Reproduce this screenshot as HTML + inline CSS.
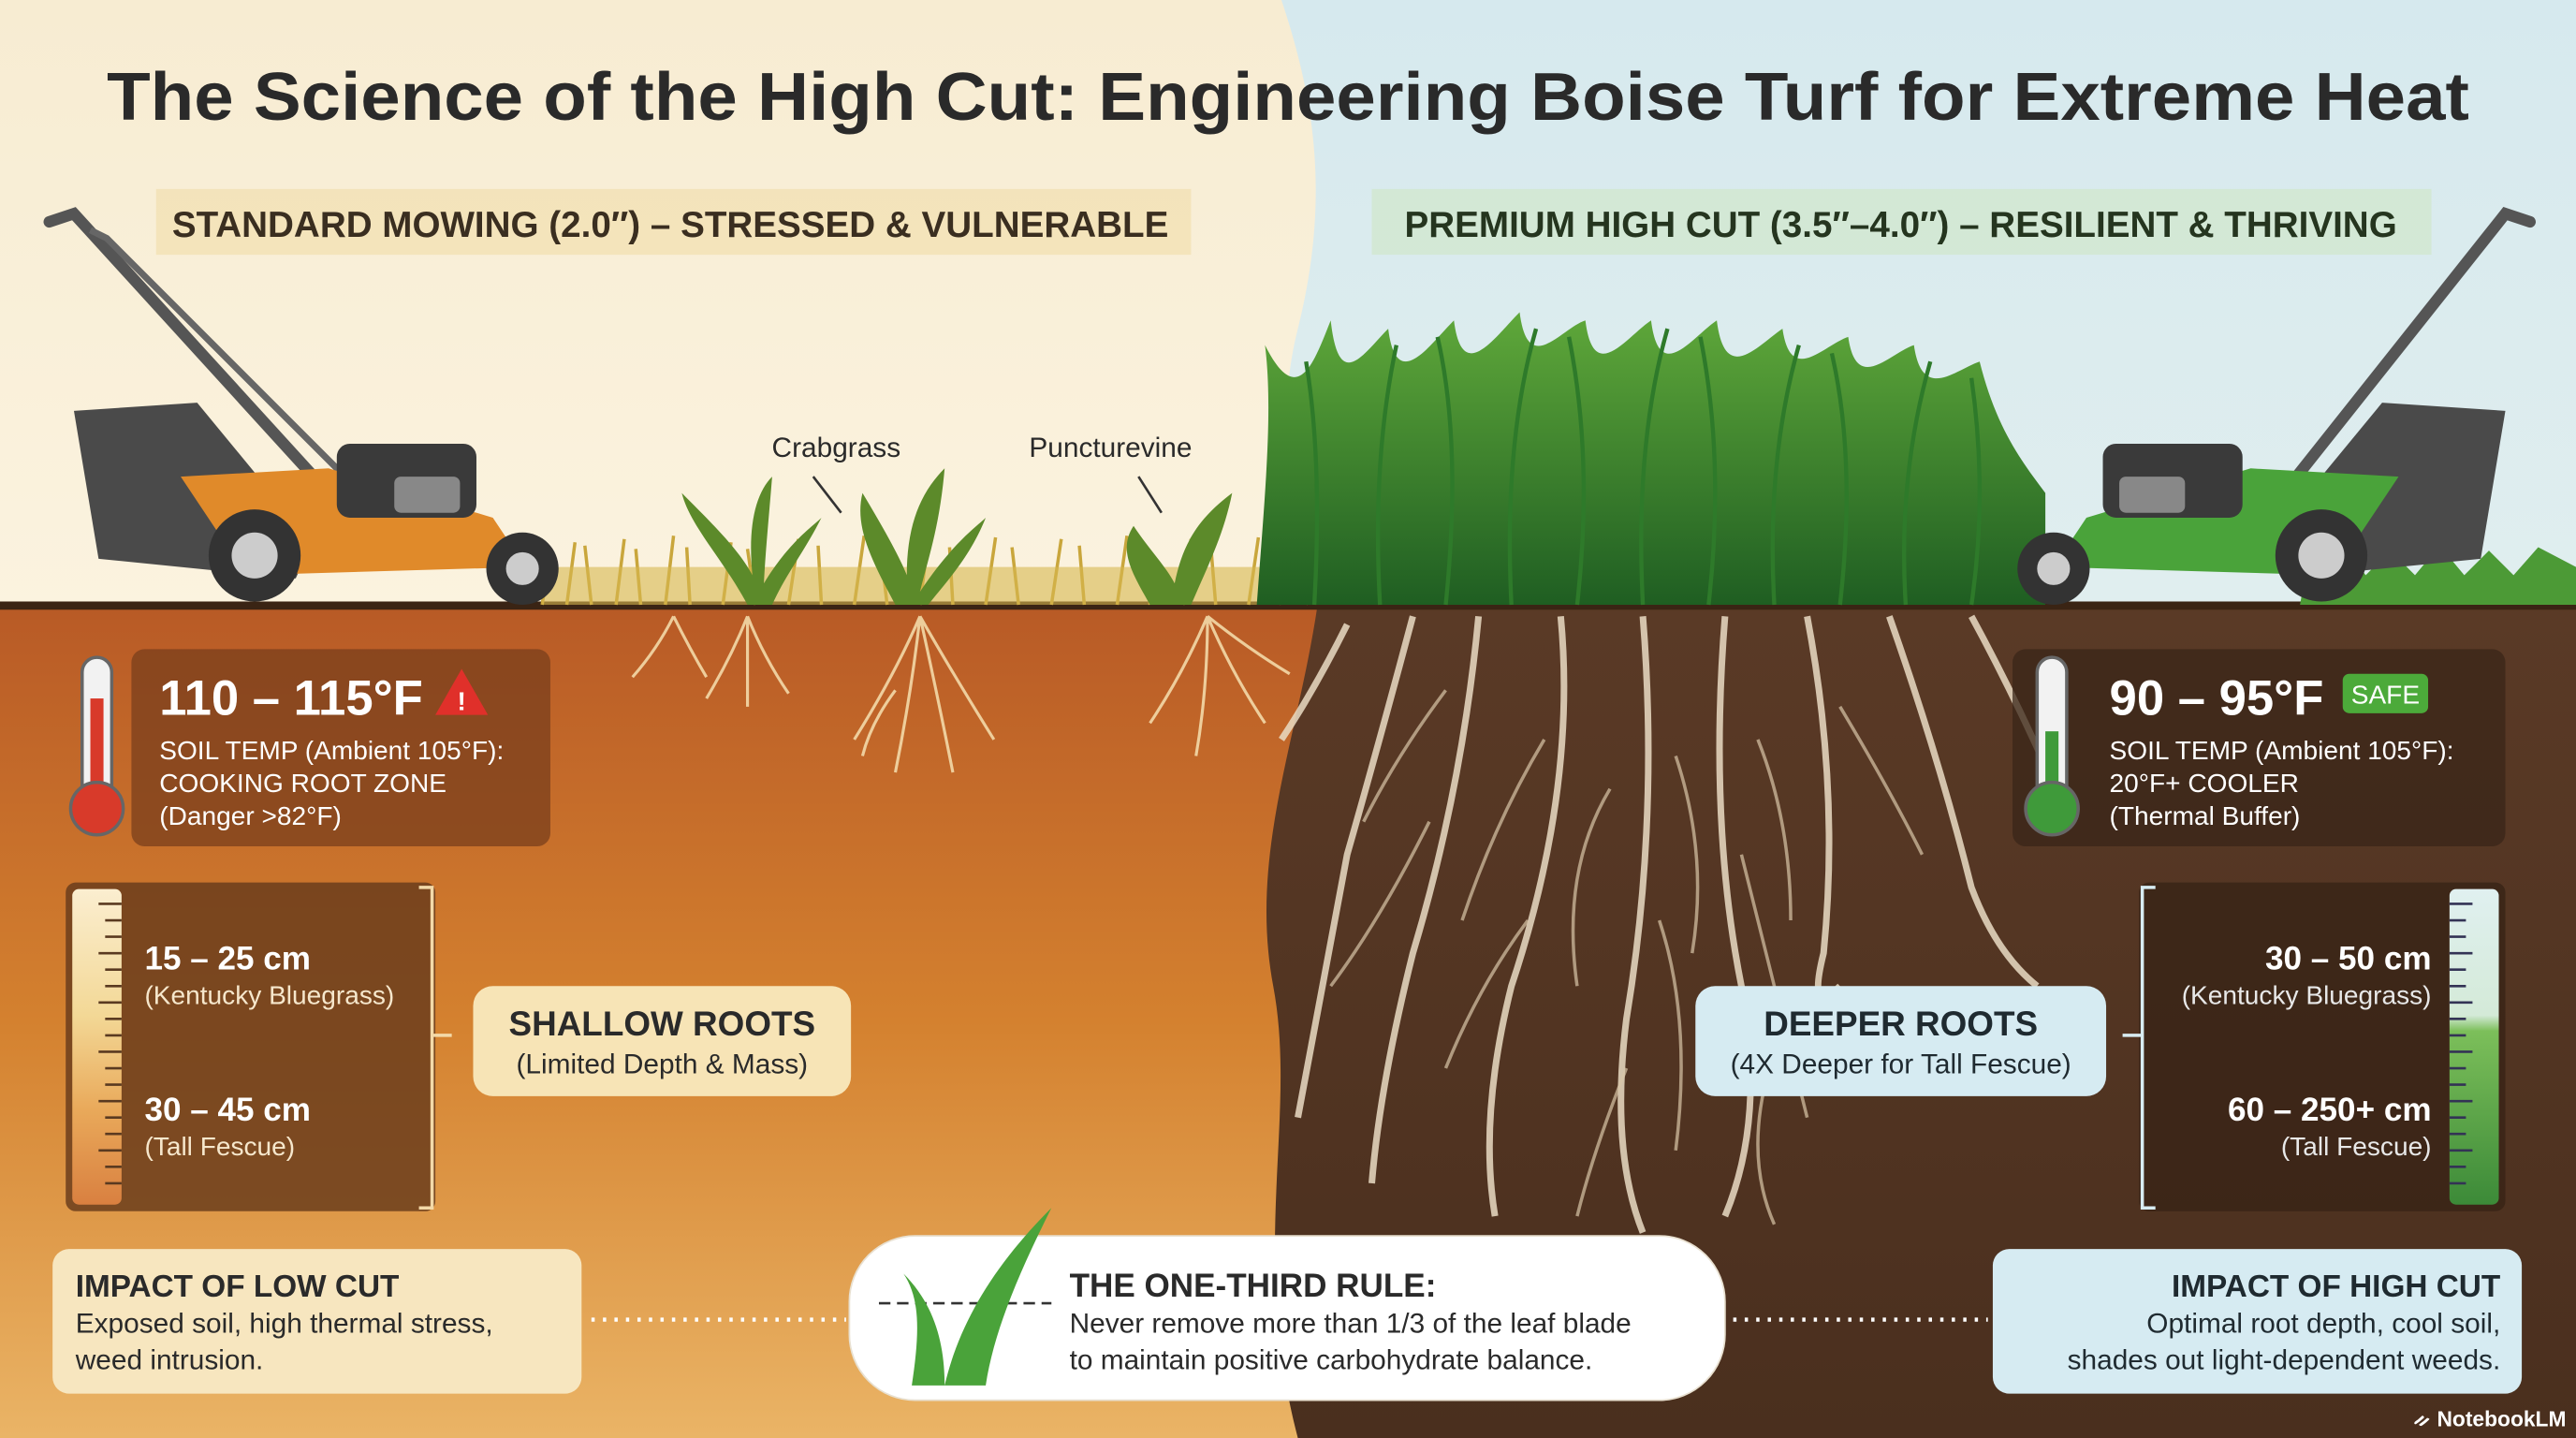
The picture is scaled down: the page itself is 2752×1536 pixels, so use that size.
<!DOCTYPE html>
<html><head><meta charset="utf-8"><style>
html,body{margin:0;padding:0;width:2752px;height:1536px;overflow:hidden}
svg{display:block}
text{font-family:"Liberation Sans",sans-serif}
</style></head><body>
<svg width="2752" height="1536" viewBox="0 0 1568 875" preserveAspectRatio="none" xmlns="http://www.w3.org/2000/svg">
<defs>
<linearGradient id="skyL" x1="0" y1="0" x2="0" y2="1"><stop offset="0" stop-color="#f7ecd2"/><stop offset="1" stop-color="#fbf3df"/></linearGradient>
<linearGradient id="skyR" x1="0" y1="0" x2="0" y2="1"><stop offset="0" stop-color="#d6e9ee"/><stop offset="1" stop-color="#eef5f0"/></linearGradient>
<linearGradient id="soilL" x1="0" y1="0" x2="0" y2="1"><stop offset="0" stop-color="#b85a26"/><stop offset="0.5" stop-color="#d4812f"/><stop offset="1" stop-color="#eab466"/></linearGradient>
<linearGradient id="soilR" x1="0" y1="0" x2="0" y2="1"><stop offset="0" stop-color="#5a3a26"/><stop offset="1" stop-color="#4a2f1e"/></linearGradient>
<linearGradient id="grassR" x1="0" y1="0" x2="0" y2="1"><stop offset="0" stop-color="#5fa83a"/><stop offset="1" stop-color="#1f5e22"/></linearGradient>
<linearGradient id="rulerL" x1="0" y1="0" x2="0" y2="1"><stop offset="0" stop-color="#fbeed0"/><stop offset="0.4" stop-color="#f3d896"/><stop offset="0.7" stop-color="#e9a95a"/><stop offset="1" stop-color="#d98040"/></linearGradient>
<linearGradient id="rulerR" x1="0" y1="0" x2="0" y2="1"><stop offset="0" stop-color="#e0f0f0"/><stop offset="0.4" stop-color="#d4ead8"/><stop offset="0.45" stop-color="#7cbf5a"/><stop offset="1" stop-color="#3c8a38"/></linearGradient>
</defs>
<rect x="0" y="0" width="1568" height="875" fill="url(#skyR)"/>
<path d="M0 0 H780 C800 60 810 120 790 200 C770 280 800 330 800 370 H0Z" fill="url(#skyL)"/>
<rect x="0" y="368" width="1568" height="507" fill="url(#soilR)"/>
<path d="M0 368 H802 C790 450 760 520 775 600 C790 680 760 760 790 875 H0Z" fill="url(#soilL)"/>
<rect x="0" y="366" width="1568" height="5" fill="#3a2414"/>
<text x="784" y="73" font-size="41" font-weight="bold" text-anchor="middle" fill="#2a2a2a" textLength="1438" lengthAdjust="spacingAndGlyphs">The Science of the High Cut: Engineering Boise Turf for Extreme Heat</text>
<rect x="95" y="115" width="630" height="40" fill="#f0dca8" opacity="0.6"/>
<text x="408" y="144" font-size="22" font-weight="bold" text-anchor="middle" fill="#3a2e20">STANDARD MOWING (2.0″) – STRESSED &amp; VULNERABLE</text>
<rect x="835" y="115" width="645" height="40" fill="#cfe6c4" opacity="0.6"/>
<text x="1157" y="144" font-size="22" font-weight="bold" text-anchor="middle" fill="#25351f">PREMIUM HIGH CUT (3.5″–4.0″) – RESILIENT &amp; THRIVING</text>
<g stroke="#c9a63c" stroke-width="2">
<path d="M330 368 L335 335 M345 368 L350 330 M360 368 L356 332 M375 368 L380 328 M390 368 L387 334 M405 368 L410 326 M420 368 L418 333 M440 368 L445 330 M460 368 L455 334 M480 368 L486 328 M500 368 L498 332 M520 368 L526 326 M540 368 L536 334 M560 368 L565 328 M580 368 L578 333 M600 368 L606 327 M620 368 L616 333 M640 368 L646 328 M660 368 L657 332 M680 368 L686 326 M700 368 L698 333 M720 368 L725 328 M740 368 L737 332 M760 368 L766 327 M780 368 L777 333 M795 368 L798 330"/>
</g>
<rect x="330" y="345" width="470" height="23" fill="#d7b84f" opacity="0.6"/>
<g fill="#5c8a2a">
<path d="M455 368 C440 340 420 320 415 300 C435 320 450 335 458 350 C455 320 460 300 470 290 C468 315 466 335 465 355 C480 330 495 320 500 315 C490 335 478 350 470 368Z"/>
<path d="M545 368 C530 340 520 320 525 300 C540 325 548 340 552 350 C552 320 560 300 575 285 C572 320 565 340 560 360 C580 330 595 320 600 315 C590 340 575 355 565 368Z"/>
<path d="M700 368 C690 350 680 335 690 320 C700 335 710 345 715 355 C720 330 730 315 750 300 C745 325 735 345 725 368Z"/>
</g>
<text x="509" y="278" font-size="17" text-anchor="middle" fill="#2a2a2a">Crabgrass</text>
<text x="676" y="278" font-size="17" text-anchor="middle" fill="#2a2a2a">Puncturevine</text>
<path d="M495 290 L512 312 M693 290 L707 312" stroke="#333" stroke-width="1.5"/>
<path d="M765 368 C770 300 775 250 770 210 C790 250 800 220 810 195 C815 240 830 215 845 200 C850 240 870 210 885 195 C890 235 910 205 925 190 C930 230 950 200 965 195 C970 235 990 205 1005 195 C1010 235 1030 205 1045 195 C1050 235 1070 210 1085 200 C1090 235 1110 210 1125 205 C1130 240 1150 215 1165 210 C1170 245 1190 225 1205 220 C1215 260 1230 280 1245 300 L1245 368Z" fill="url(#grassR)"/>
<g stroke="#2e7a2a" stroke-width="2.5" fill="none">
<path d="M800 368 Q805 280 795 220 M840 368 Q835 280 850 210 M880 368 Q890 270 875 205 M920 368 Q915 270 935 200 M960 368 Q970 280 955 205 M1000 368 Q995 270 1015 200 M1040 368 Q1050 280 1035 205 M1080 368 Q1075 280 1095 210 M1120 368 Q1130 280 1115 215 M1160 368 Q1155 290 1175 220 M1200 368 Q1210 300 1200 230"/>
</g>
<path d="M1400 368 L1405 340 L1415 350 L1425 330 L1440 350 L1455 335 L1470 350 L1485 332 L1500 350 L1515 335 L1530 350 L1545 333 L1568 345 V368Z" fill="#4c9a36"/>
<g>
<path d="M30 135 L45 130 L200 300" stroke="#555" stroke-width="7" fill="none" stroke-linecap="round"/>
<path d="M55 140 L65 145 L220 300" stroke="#666" stroke-width="4" fill="none"/>
<path d="M45 250 L120 245 L190 330 L180 352 L60 340 Z" fill="#4a4a4a"/>
<path d="M110 290 L200 285 L300 315 L320 345 L150 350Z" fill="#e08a2a"/>
<rect x="205" y="270" width="85" height="45" rx="8" fill="#3a3a3a"/>
<rect x="240" y="290" width="40" height="22" rx="4" fill="#888"/>
<circle cx="155" cy="338" r="28" fill="#333"/><circle cx="155" cy="338" r="14" fill="#ccc"/>
<circle cx="318" cy="346" r="22" fill="#333"/><circle cx="318" cy="346" r="10" fill="#ccc"/>
</g>
<g>
<path d="M1540 135 L1525 130 L1390 300" stroke="#555" stroke-width="7" fill="none" stroke-linecap="round"/>
<path d="M1525 250 L1450 245 L1380 330 L1390 352 L1510 340 Z" fill="#4a4a4a"/>
<path d="M1460 290 L1370 285 L1270 315 L1250 345 L1420 350Z" fill="#4aa33a"/>
<rect x="1280" y="270" width="85" height="45" rx="8" fill="#3a3a3a"/>
<rect x="1290" y="290" width="40" height="22" rx="4" fill="#888"/>
<circle cx="1413" cy="338" r="28" fill="#333"/><circle cx="1413" cy="338" r="14" fill="#ccc"/>
<circle cx="1250" cy="346" r="22" fill="#333"/><circle cx="1250" cy="346" r="10" fill="#ccc"/>
</g>
<g stroke="#f3d9a8" stroke-width="1.8" fill="none" opacity="0.9">
<path d="M410 375 Q400 395 385 412 M410 375 Q420 395 430 412 M455 375 Q445 400 430 425 M455 375 Q465 400 480 422 M455 375 Q455 400 455 430"/>
<path d="M560 375 Q545 410 520 450 M560 375 Q555 420 545 470 M560 375 Q570 420 580 470 M560 375 Q580 410 605 450 M545 420 Q530 440 525 460"/>
<path d="M735 375 Q720 410 700 440 M735 375 Q735 420 728 460 M735 375 Q750 410 770 440 M735 375 Q760 395 785 410"/>
</g>
<g stroke="#eadcc4" stroke-width="4" fill="none" opacity="0.85">
<path d="M860 375 Q840 450 820 520 Q805 600 790 680"/>
<path d="M900 375 Q890 480 860 580 Q840 660 835 720"/>
<path d="M950 375 Q960 480 920 600 Q900 680 910 740"/>
<path d="M1000 375 Q1010 500 990 620 Q980 700 1000 750"/>
<path d="M1050 375 Q1040 500 1060 600 Q1075 680 1050 740"/>
<path d="M1100 375 Q1120 480 1110 580 Q1100 620 1120 600"/>
<path d="M1150 375 Q1180 460 1200 540 Q1215 580 1240 600"/>
<path d="M1200 375 Q1230 430 1260 500"/>
<path d="M820 380 Q800 420 780 450"/>
</g>
<g stroke="#d8c6a8" stroke-width="2" fill="none" opacity="0.7">
<path d="M880 420 Q850 460 830 500 M940 450 Q910 500 890 560 M980 480 Q950 530 960 600 M1020 460 Q1040 520 1030 580 M1070 450 Q1090 500 1090 560 M1120 430 Q1150 480 1170 520 M930 560 Q900 600 880 650 M1010 560 Q1030 620 1020 700 M1060 520 Q1080 600 1100 680 M870 500 Q840 560 810 600 M990 650 Q970 700 960 740 M1080 640 Q1060 700 1080 745"/>
</g>
<rect x="80" y="395" width="255" height="120" rx="8" fill="#7a3f1c" opacity="0.75"/>
<rect x="50" y="400" width="18" height="90" rx="9" fill="#f2f2f2" stroke="#666" stroke-width="2"/>
<rect x="55" y="425" width="8" height="65" fill="#d83a2a"/>
<circle cx="59" cy="492" r="16" fill="#d83a2a" stroke="#666" stroke-width="2"/>
<text x="97" y="435" font-size="30" font-weight="bold" fill="#fff">110 – 115°F</text>
<path d="M281 407 L297 435 L265 435Z" fill="#e0302a"/><text x="281" y="432" font-size="16" font-weight="bold" text-anchor="middle" fill="#fff">!</text>
<text x="97" y="462" font-size="16" fill="#fff">SOIL TEMP (Ambient 105°F):</text>
<text x="97" y="482" font-size="16" fill="#fff">COOKING ROOT ZONE</text>
<text x="97" y="502" font-size="16" fill="#fff">(Danger &gt;82°F)</text>
<rect x="1225" y="395" width="300" height="120" rx="8" fill="#3a2618" opacity="0.75"/>
<rect x="1240" y="400" width="18" height="90" rx="9" fill="#f2f2f2" stroke="#666" stroke-width="2"/>
<rect x="1245" y="445" width="8" height="45" fill="#3f9a3a"/>
<circle cx="1249" cy="492" r="16" fill="#3f9a3a" stroke="#666" stroke-width="2"/>
<text x="1284" y="435" font-size="30" font-weight="bold" fill="#fff">90 – 95°F</text>
<rect x="1426" y="410" width="52" height="24" rx="4" fill="#4caa3a"/>
<text x="1452" y="428" font-size="16" text-anchor="middle" fill="#fff">SAFE</text>
<text x="1284" y="462" font-size="16" fill="#fff">SOIL TEMP (Ambient 105°F):</text>
<text x="1284" y="482" font-size="16" fill="#fff">20°F+ COOLER</text>
<text x="1284" y="502" font-size="16" fill="#fff">(Thermal Buffer)</text>
<rect x="40" y="537" width="225" height="200" rx="6" fill="#6b3d1c" opacity="0.85"/>
<rect x="44" y="541" width="30" height="192" rx="4" fill="url(#rulerL)"/>
<g stroke="#5a3a20" stroke-width="1.5"><path d="M60 550h14M64 560h10M64 570h10M60 580h14M64 590h10M64 600h10M60 610h14M64 620h10M64 630h10M60 640h14M64 650h10M64 660h10M60 670h14M64 680h10M64 690h10M60 700h14M64 710h10M64 720h10"/></g>
<path d="M255 540 h8 v90 h12 M263 630 v105 h-8" stroke="#f3d9a8" stroke-width="2" fill="none"/>
<text x="88" y="590" font-size="20" font-weight="bold" fill="#fff">15 – 25 cm</text>
<text x="88" y="611" font-size="16" fill="#f6e7cc">(Kentucky Bluegrass)</text>
<text x="88" y="682" font-size="20" font-weight="bold" fill="#fff">30 – 45 cm</text>
<text x="88" y="703" font-size="16" fill="#f6e7cc">(Tall Fescue)</text>
<rect x="1302" y="537" width="223" height="200" rx="6" fill="#3a2416" opacity="0.85"/>
<rect x="1491" y="541" width="30" height="192" rx="4" fill="url(#rulerR)"/>
<g stroke="#335" stroke-width="1.5"><path d="M1491 550h14M1491 560h10M1491 570h10M1491 580h14M1491 590h10M1491 600h10M1491 610h14M1491 620h10M1491 630h10M1491 640h14M1491 650h10M1491 660h10M1491 670h14M1491 680h10M1491 690h10M1491 700h14M1491 710h10M1491 720h10"/></g>
<path d="M1312 540 h-8 v90 h-12 M1304 630 v105 h8" stroke="#d8ecf2" stroke-width="2" fill="none"/>
<text x="1480" y="590" font-size="20" font-weight="bold" text-anchor="end" fill="#fff">30 – 50 cm</text>
<text x="1480" y="611" font-size="16" text-anchor="end" fill="#e8e8e8">(Kentucky Bluegrass)</text>
<text x="1480" y="682" font-size="20" font-weight="bold" text-anchor="end" fill="#fff">60 – 250+ cm</text>
<text x="1480" y="703" font-size="16" text-anchor="end" fill="#e8e8e8">(Tall Fescue)</text>
<rect x="288" y="600" width="230" height="67" rx="12" fill="#f7e4b6"/>
<text x="403" y="630" font-size="21" font-weight="bold" text-anchor="middle" fill="#2a2a2a">SHALLOW ROOTS</text>
<text x="403" y="653" font-size="17" text-anchor="middle" fill="#2a2a2a">(Limited Depth &amp; Mass)</text>
<rect x="1032" y="600" width="250" height="67" rx="12" fill="#d6ebf2"/>
<text x="1157" y="630" font-size="21" font-weight="bold" text-anchor="middle" fill="#1f2a30">DEEPER ROOTS</text>
<text x="1157" y="653" font-size="17" text-anchor="middle" fill="#1f2a30">(4X Deeper for Tall Fescue)</text>
<rect x="32" y="760" width="322" height="88" rx="10" fill="#f7e6bf"/>
<text x="46" y="789" font-size="19" font-weight="bold" fill="#2a2a2a">IMPACT OF LOW CUT</text>
<text x="46" y="811" font-size="17" fill="#2a2a2a">Exposed soil, high thermal stress,</text>
<text x="46" y="833" font-size="17" fill="#2a2a2a">weed intrusion.</text>
<path d="M360 803 H515" stroke="#fff" stroke-width="2.5" stroke-dasharray="2 5"/>
<path d="M1055 803 H1210" stroke="#fff" stroke-width="2.5" stroke-dasharray="2 5"/>
<rect x="517" y="752" width="533" height="100" rx="40" fill="#fff" stroke="#e8e0d0"/>
<path d="M535 793 H640" stroke="#333" stroke-width="1.5" stroke-dasharray="7 4"/>
<path d="M555 843 C560 810 560 790 550 775 C570 795 575 820 575 843 C585 800 610 765 640 735 C620 775 605 810 600 843Z" fill="#4aa33a"/>
<text x="651" y="789" font-size="20" font-weight="bold" fill="#2a2a2a">THE ONE-THIRD RULE:</text>
<text x="651" y="811" font-size="17" fill="#2a2a2a">Never remove more than 1/3 of the leaf blade</text>
<text x="651" y="833" font-size="17" fill="#2a2a2a">to maintain positive carbohydrate balance.</text>
<rect x="1213" y="760" width="322" height="88" rx="10" fill="#d6ebf2"/>
<text x="1522" y="789" font-size="19" font-weight="bold" text-anchor="end" fill="#1f2a30">IMPACT OF HIGH CUT</text>
<text x="1522" y="811" font-size="17" text-anchor="end" fill="#1f2a30">Optimal root depth, cool soil,</text>
<text x="1522" y="833" font-size="17" text-anchor="end" fill="#1f2a30">shades out light-dependent weeds.</text>
<text x="1562" y="868" font-size="13" font-weight="bold" text-anchor="end" fill="#fff">ᨀ NotebookLM</text>
</svg>
</body></html>
